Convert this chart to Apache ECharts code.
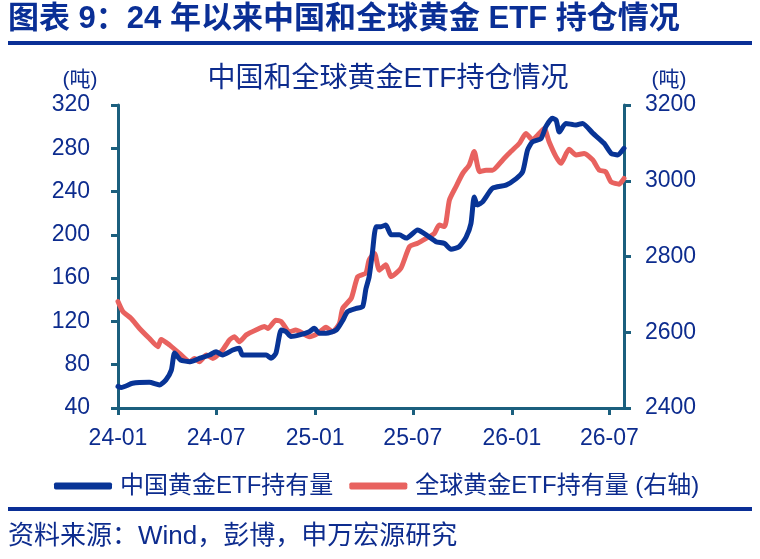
<!DOCTYPE html>
<html>
<head>
<meta charset="utf-8">
<script src="https://cdn.jsdelivr.net/npm/echarts@6/dist/echarts.min.js"></script>
<style>
  html, body { margin: 0; padding: 0; background: #fff; }
  #chart { width: 760px; height: 559px; }
</style>
</head>
<body>
<div id="chart"></div>
<script>
// 中国黄金ETF持有量（吨，左轴）
const chinaDates = ['2024-01-01','2024-01-07','2024-01-28','2024-02-28','2024-03-18','2024-03-30','2024-04-09','2024-04-15','2024-04-26','2024-05-14','2024-06-01','2024-06-19','2024-07-01','2024-07-13','2024-08-01','2024-08-13','2024-08-19','2024-09-13','2024-10-02','2024-10-11','2024-10-20','2024-10-30','2024-11-08','2024-11-17','2024-12-03','2024-12-21','2024-12-30','2025-01-09','2025-01-21','2025-02-09','2025-02-21','2025-03-02','2025-03-18','2025-03-30','2025-04-05','2025-04-11','2025-04-17','2025-04-24','2025-05-03','2025-05-12','2025-05-22','2025-06-06','2025-06-19','2025-07-10','2025-07-26','2025-08-13','2025-08-29','2025-09-10','2025-09-25','2025-10-08','2025-10-17','2025-10-23','2025-10-29','2025-11-08','2025-11-26','2025-12-21','2026-01-09','2026-01-21','2026-01-30','2026-02-08','2026-02-24','2026-03-05','2026-03-17','2026-03-24','2026-03-30','2026-04-11','2026-04-30','2026-05-12','2026-05-31','2026-06-21','2026-07-04','2026-07-16','2026-07-28']
const chinaValues = [60,59,62.8,63.7,61.3,66,75,90.8,84.4,82.8,86,89,92,89,93.6,95.2,89,89,89,86,90.6,112,110.5,106,107.5,110.5,113.6,109,109,112,121,129,132,133.6,150,161,183,207.6,207.6,209,200,200,197,204.5,200,193.7,192,186.6,189,198,210.6,235,227.6,230.7,243,246,252,258.4,278.4,286,289,300,307.7,306,295,303,301.5,303,294,284.6,275.4,273.8,280]

// 全球黄金ETF持有量（吨，右轴）
const globalDates = ['2024-01-01','2024-01-10','2024-01-25','2024-02-10','2024-02-28','2024-03-15','2024-03-21','2024-04-06','2024-04-24','2024-05-13','2024-05-22','2024-05-31','2024-06-13','2024-06-25','2024-07-13','2024-07-26','2024-08-04','2024-08-13','2024-08-26','2024-09-13','2024-09-29','2024-10-05','2024-10-20','2024-10-30','2024-11-14','2024-11-26','2024-12-09','2024-12-21','2025-01-06','2025-01-21','2025-02-02','2025-02-15','2025-02-21','2025-03-09','2025-03-21','2025-04-05','2025-04-11','2025-04-21','2025-04-30','2025-05-12','2025-05-22','2025-06-09','2025-06-25','2025-07-10','2025-07-26','2025-08-10','2025-08-19','2025-08-29','2025-09-07','2025-09-19','2025-10-02','2025-10-14','2025-10-23','2025-11-02','2025-11-14','2025-11-26','2025-12-15','2025-12-30','2026-01-15','2026-01-27','2026-02-08','2026-02-21','2026-03-02','2026-03-11','2026-03-24','2026-04-02','2026-04-17','2026-04-30','2026-05-15','2026-05-31','2026-06-12','2026-06-24','2026-07-04','2026-07-19','2026-07-28']
const globalValues = [2681,2655,2637,2610,2584,2562,2581,2566,2544,2522,2531,2522,2540,2531,2553,2580,2588,2575,2593,2606,2615,2610,2632,2628,2601,2606,2597,2588,2597,2613,2601,2624,2663,2690,2747,2756,2791,2808,2764,2778,2747,2769,2826,2835,2848,2861,2883,2879,2949,2984,3020,3042,3077,3024,3028,3028,3055,3077,3099,3125,3108,3125,3138,3103,3063,3046,3083,3068,3072,3055,3028,3024,2997,2991,3006]

const xTickDates = ['2024-01-01','2024-07-01','2025-01-01','2025-07-01','2026-01-01','2026-07-01']
const xTickLabels = ['24-01','24-07','25-01','25-07','26-01','26-07']
const xStart = '2024-01-01'
const xEnd = '2026-07-28'

const textBlue = '#0d2c8e'
const axisColor = '#1b5f7e'
const fontFamily = '"Liberation Sans", "Noto Sans CJK SC", sans-serif'

// days since xStart, so the x axis can be a plain value axis
function toDay(s) {
  const p = s.split('-').map(Number)
  const q = xStart.split('-').map(Number)
  return Math.round((Date.UTC(p[0], p[1] - 1, p[2]) - Date.UTC(q[0], q[1] - 1, q[2])) / 86400000)
}

const xTickValues = xTickDates.map(toDay)

const chart = echarts.init(document.getElementById('chart'))
const option = {
  animation: false,
  backgroundColor: '#fff',
  textStyle: { fontFamily: fontFamily },
  title: {
    text: '中国和全球黄金ETF持仓情况',
    left: 383,
    top: 60,
    textAlign: 'center',
    textStyle: { color: textBlue, fontSize: 28, fontWeight: 'normal', fontFamily: fontFamily },
  },
  grid: {
    left: 118,
    right: 136,
    top: 105,
    bottom: 151,
    containLabel: false,
    outerBoundsMode: 'none',
  },
  legend: {
    left: 49,
    top: 469,
    icon: 'roundRect',
    itemWidth: 58,
    itemHeight: 7,
    itemGap: 16,
    textStyle: { color: textBlue, fontSize: 24, fontFamily: fontFamily, padding: [0, 0, 0, 3] },
    data: ['中国黄金ETF持有量', '全球黄金ETF持有量 (右轴)'],
  },
  xAxis: {
    type: 'value',
    min: 0,
    max: toDay(xEnd),
    axisLine: { show: true, onZero: false, lineStyle: { color: axisColor, width: 3 } },
    axisTick: { show: true, customValues: xTickValues, length: 7, lineStyle: { color: axisColor, width: 3 } },
    axisLabel: {
      customValues: xTickValues,
      margin: 19,
      color: textBlue,
      fontSize: 23,
      fontFamily: fontFamily,
      formatter: function (v) {
        const i = xTickValues.indexOf(v)
        return i >= 0 ? xTickLabels[i] : ''
      },
    },
    splitLine: { show: false },
  },
  yAxis: [
    {
      type: 'value',
      position: 'left',
      min: 40,
      max: 320,
      interval: 40,
      axisLine: { show: true, lineStyle: { color: axisColor, width: 3 } },
      axisTick: { show: true, length: 7, lineStyle: { color: axisColor, width: 3 } },
      axisLabel: { margin: 28, color: textBlue, fontSize: 23, fontFamily: fontFamily },
      splitLine: { show: false },
    },
    {
      type: 'value',
      position: 'right',
      min: 2400,
      max: 3200,
      interval: 200,
      axisLine: { show: true, lineStyle: { color: axisColor, width: 3 } },
      axisTick: { show: true, length: 7, lineStyle: { color: axisColor, width: 3 } },
      axisLabel: {
        margin: 21,
        color: textBlue,
        fontSize: 23,
        fontFamily: fontFamily,
        formatter: function (v) { return String(v) },
      },
      splitLine: { show: false },
    },
  ],
  series: [
    {
      name: '中国黄金ETF持有量',
      type: 'line',
      yAxisIndex: 0,
      showSymbol: false,
      smooth: 0.2,
      color: '#083496',
      lineStyle: { width: 5, cap: 'round', join: 'round' },
      data: chinaDates.map(function (d, i) { return [toDay(d), chinaValues[i]] }),
      z: 3,
    },
    {
      name: '全球黄金ETF持有量 (右轴)',
      type: 'line',
      yAxisIndex: 1,
      showSymbol: false,
      smooth: 0.2,
      color: '#e8625f',
      lineStyle: { width: 5, cap: 'round', join: 'round' },
      data: globalDates.map(function (d, i) { return [toDay(d), globalValues[i]] }),
      z: 2,
    },
  ],
  graphic: [
    {
      type: 'text',
      left: 8,
      top: 4,
      style: {
        text: '图表 9：24 年以来中国和全球黄金 ETF 持仓情况',
        fill: '#0a2f96',
        font: 'bold 31px ' + fontFamily,
      },
    },
    { type: 'rect', shape: { x: 8, y: 41, width: 744, height: 4 }, style: { fill: '#0a2f96' } },
    {
      type: 'text',
      x: 80,
      y: 80,
      style: { text: '(吨)', fill: textBlue, font: '21px ' + fontFamily, align: 'center', verticalAlign: 'middle' },
    },
    {
      type: 'text',
      x: 669,
      y: 80,
      style: { text: '(吨)', fill: textBlue, font: '21px ' + fontFamily, align: 'center', verticalAlign: 'middle' },
    },
    { type: 'rect', shape: { x: 8, y: 507, width: 744, height: 4 }, style: { fill: '#0a2f96' } },
    {
      type: 'text',
      left: 8,
      top: 524,
      style: { text: '资料来源：Wind，彭博，申万宏源研究', fill: textBlue, font: '26px ' + fontFamily },
    },
  ],
}
chart.setOption(option)
</script>
</body>
</html>
